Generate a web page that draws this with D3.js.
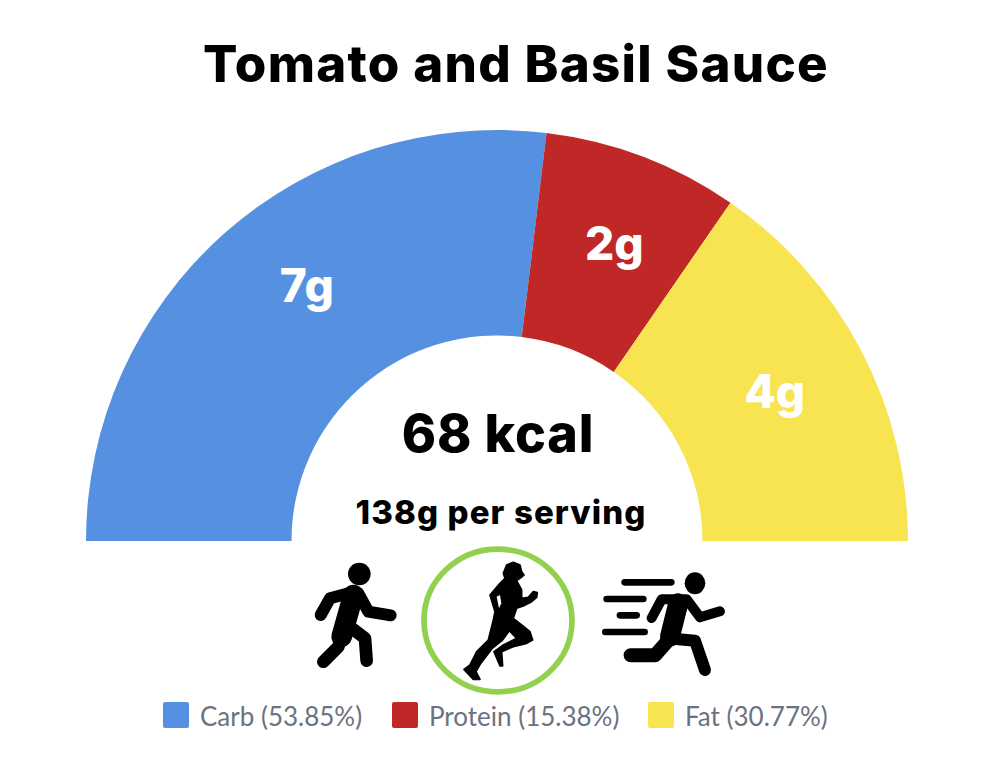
<!DOCTYPE html>
<html>
<head>
<meta charset="utf-8">
<style>
	html, body { margin: 0; padding: 0; background: #fff; }
	svg { display: block; }
	.heavy { font-family: Inter, "Open Sans", sans-serif; font-weight: 800; }
	.legend-label { font-family: Lato, sans-serif; font-size: 26px; fill: #6b7280; }
</style>
<script src="https://cdn.jsdelivr.net/npm/d3@7"></script>
</head>
<body>
<svg id="chart" width="998" height="774"></svg>
<script>
"use strict";

const title = 'Tomato and Basil Sauce';
const categories = ['Carb', 'Protein', 'Fat'];
const grams = [7, 2, 4];
const percents = ['53.85%', '15.38%', '30.77%'];
const colors = ['#5591e0', '#c02727', '#f8e351'];
const kcal = '68 kcal';
const serving = '138g per serving';

const svg = d3.select('#chart');
const cx = 497, cy = 541, outer = 411, inner = 205.5;

const pie = d3.pie().sort(null).startAngle(-Math.PI / 2).endAngle(Math.PI / 2);
const arc = d3.arc().innerRadius(inner).outerRadius(outer);
const label_arc = d3.arc().innerRadius(317).outerRadius(317);
const label_nudge = [[20, -18], [5, -1], [-3, -2]];

svg.append('text')
	.attr('class', 'heavy')
	.attr('x', 516)
	.attr('y', 82)
	.attr('text-anchor', 'middle')
	.style('font-size', '51px')
	.style('letter-spacing', '1.3px')
	.text(title);

const gauge = svg.append('g').attr('transform', `translate(${cx},${cy})`);
const slices = pie(grams);

gauge.selectAll('path.slice')
	.data(slices)
	.enter()
	.append('path')
	.attr('class', 'slice')
	.attr('d', arc)
	.attr('fill', (d, i) => colors[i]);

gauge.selectAll('text.amount')
	.data(slices)
	.enter()
	.append('text')
	.attr('class', 'amount heavy')
	.attr('transform', (d, i) => {
		const [x, y] = label_arc.centroid(d);
		return `translate(${x + label_nudge[i][0]},${y + label_nudge[i][1]})`;
	})
	.attr('text-anchor', 'middle')
	.attr('dy', '0.35em')
	.attr('fill', '#fff')
	.style('font-size', '46px')
	.text((d, i) => `${grams[i]}g`);

svg.append('text')
	.attr('class', 'heavy')
	.attr('x', 498)
	.attr('y', 452)
	.attr('text-anchor', 'middle')
	.style('font-size', '52px')
	.style('letter-spacing', '0.8px')
	.text(kcal);

svg.append('text')
	.attr('class', 'heavy')
	.attr('x', 501)
	.attr('y', 524)
	.attr('text-anchor', 'middle')
	.style('font-size', '33px')
	.style('letter-spacing', '1.1px')
	.text(serving);

// icons are traced in a 3x grid, offset to the spot under the gauge
const icons = svg.append('g').attr('transform', 'translate(300,540) scale(0.3333)');
const limb = d3.line();
const stroke_limb = (pts, width) => icons.append('path')
	.attr('d', limb(pts))
	.attr('fill', 'none')
	.attr('stroke', '#000')
	.attr('stroke-width', width)
	.attr('stroke-linecap', 'round')
	.attr('stroke-linejoin', 'round');

// walker
icons.append('circle').attr('cx', 178).attr('cy', 102).attr('r', 34);
stroke_limb([[160, 165], [125, 290]], 62);
stroke_limb([[165, 155], [90, 175], [62, 225]], 36);
stroke_limb([[175, 160], [205, 215], [272, 226]], 36);
stroke_limb([[125, 285], [115, 320], [70, 365]], 38);
stroke_limb([[130, 245], [195, 295], [200, 362]], 38);

// ring + woman running
icons.append('ellipse')
	.attr('cx', 594).attr('cy', 241.5).attr('rx', 222).attr('ry', 214)
	.attr('fill', 'none')
	.attr('stroke', '#92d050')
	.attr('stroke-width', 17);
const woman = [[640, 67], [660, 75], [665, 95], [672, 105], [660, 115], [650, 122], [665, 150], [665, 175],
	[685, 172], [700, 155], [712, 158], [710, 172], [695, 185], [670, 198], [650, 205], [640, 235],
	[665, 255], [690, 275], [698, 300], [680, 310], [640, 320], [605, 335], [608, 378], [600, 378],
	[582, 335], [610, 315], [650, 295], [628, 272], [606, 302], [576, 326], [541, 372], [528, 395],
	[540, 418], [520, 418], [492, 388], [510, 375], [530, 335], [565, 300], [580, 240], [585, 215],
	[570, 165], [600, 130], [615, 115], [610, 100], [620, 75]];
icons.append('path')
	.attr('d', d3.line().curve(d3.curveLinearClosed)(woman))
	.attr('stroke', '#000')
	.attr('stroke-width', 5)
	.attr('stroke-linejoin', 'round');
const woman_gap = [[600, 165], [590, 170], [597, 205], [604, 190]];
icons.append('path')
	.attr('d', d3.line().curve(d3.curveLinearClosed)(woman_gap))
	.attr('fill', '#fff');

// sprinter
icons.append('ellipse').attr('cx', 1185).attr('cy', 130).attr('rx', 31).attr('ry', 33);
[[974, 1114, 127], [920, 1030, 177], [960, 1010, 226], [916, 1034, 276]].forEach(([a, b, y]) => {
	stroke_limb([[a, y], [b, y]], 20);
});
stroke_limb([[1135, 190], [1110, 290]], 60);
stroke_limb([[1055, 234], [1085, 178], [1160, 178], [1200, 232], [1260, 214]], 30);
stroke_limb([[1120, 296], [1185, 302], [1215, 390]], 36);
stroke_limb([[992, 346], [1065, 346], [1110, 295]], 42);

// legend
const legend_x = [163, 392, 648];
const legend = svg.selectAll('g.legend')
	.data(categories)
	.enter()
	.append('g')
	.attr('class', 'legend')
	.attr('transform', (d, i) => `translate(${legend_x[i]},702)`);
legend.append('rect')
	.attr('width', 26)
	.attr('height', 26)
	.attr('rx', 2)
	.attr('fill', (d, i) => colors[i]);
legend.append('text')
	.attr('class', 'legend-label')
	.attr('x', 37)
	.attr('y', 24)
	.text((d, i) => `${d} (${percents[i]})`);
</script>
</body>
</html>
